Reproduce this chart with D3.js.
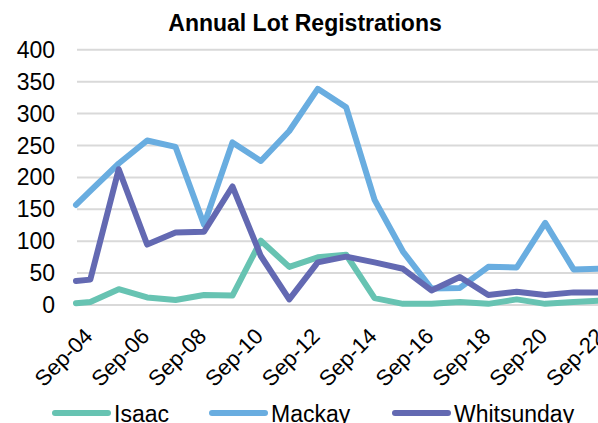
<!DOCTYPE html>
<html>
<head>
<meta charset="utf-8">
<script src="https://cdn.jsdelivr.net/npm/d3@7"></script>
<style>
  html, body { margin: 0; padding: 0; background: #fff; overflow: hidden; }
  text { font-family: "Liberation Sans", Arial, sans-serif; fill: #000; }
</style>
</head>
<body>
<div class="chart"></div>
<script>
const WIDTH = 598;
const HEIGHT = 423;

// Data (first point is a part-year, then every September)
const periods = ["2004-03", "2004-09", "2005-09", "2006-09", "2007-09", "2008-09", "2009-09",
  "2010-09", "2011-09", "2012-09", "2013-09", "2014-09", "2015-09", "2016-09", "2017-09",
  "2018-09", "2019-09", "2020-09", "2021-09", "2022-09"];
const isaac = [2, 4, 24, 11, 7, 15, 14, 100, 59, 74, 78, 10, 1, 1, 4, 1, 8, 1, 4, 6];
const mackay = [156, 178, 221, 257, 247, 125, 254, 225, 272, 338, 309, 164, 83, 25, 26, 59, 58, 128, 55, 56];
const whitsunday = [37, 39, 212, 94, 113, 114, 185, 76, 8, 66, 75, 66, 56, 22, 43, 15, 20, 15, 19, 19];

const tickLabels = ["2004-09", "2006-09", "2008-09", "2010-09", "2012-09", "2014-09",
  "2016-09", "2018-09", "2020-09", "2022-09"];
const yTicks = [0, 50, 100, 150, 200, 250, 300, 350, 400];

const seriesNames = ["Isaac", "Mackay", "Whitsunday"];
const seriesColors = ["#67c3b2", "#69ade0", "#6369b2"];

const parse = d3.timeParse("%Y-%m");
const dates = periods.map(parse);
const series = [isaac, mackay, whitsunday].map((vals, i) => ({
  name: seriesNames[i],
  color: seriesColors[i],
  values: vals.map((v, j) => ({ date: dates[j], value: v })),
}));

const svg = d3.select(".chart")
  .append("svg")
  .attr("width", WIDTH)
  .attr("height", HEIGHT);

const xScale = d3.scaleTime()
  .domain([dates[0], dates[dates.length - 1]])
  .range([76, 602]);
const yScale = d3.scaleLinear()
  .domain([0, 400])
  .range([304.5, 49.3]);

// Title
svg.append("text")
  .attr("x", 305)
  .attr("y", 31)
  .attr("text-anchor", "middle")
  .style("font-size", "23px")
  .style("font-weight", "bold")
  .text("Annual Lot Registrations");

// Gridlines + y labels
const yAxis = d3.axisLeft(yScale)
  .tickValues(yTicks)
  .tickSize(-(WIDTH + 10 - 77))
  .tickPadding(22);
const yG = svg.append("g")
  .attr("class", "axis y-axis")
  .attr("transform", "translate(77,0)")
  .call(yAxis);
yG.select(".domain").remove();
yG.selectAll(".tick line").attr("stroke", "#d9d9d9").attr("stroke-width", 2);
yG.selectAll(".tick text")
  .attr("dy", "0.35em")
  .style("font-size", "23px")
  .style("font-family", "'Liberation Sans', Arial, sans-serif")
  .attr("fill", "#000");

// x labels
const xAxis = d3.axisBottom(xScale)
  .tickValues(tickLabels.map(parse))
  .tickFormat(d3.timeFormat("%b-%y"))
  .tickSize(0);
const xG = svg.append("g")
  .attr("class", "axis x-axis")
  .attr("transform", "translate(0,304.5)")
  .call(xAxis);
xG.select(".domain").remove();
xG.selectAll(".tick text")
  .attr("text-anchor", "end")
  .attr("y", 0)
  .attr("dy", 0)
  .attr("transform", "translate(3,33) rotate(-45)")
  .style("font-size", "22px")
  .style("font-family", "'Liberation Sans', Arial, sans-serif")
  .attr("fill", "#000");

// Lines
const line = d3.line()
  .x(d => xScale(d.date))
  .y(d => yScale(d.value));

svg.append("g").attr("class", "lines")
  .selectAll("path")
  .data(series)
  .join("path")
  .attr("d", d => line(d.values))
  .attr("fill", "none")
  .attr("stroke", d => d.color)
  .attr("stroke-width", 6)
  .attr("stroke-linejoin", "round")
  .attr("stroke-linecap", "round");

// Legend
const legendX = [55, 212, 395];
const legend = svg.append("g").attr("class", "legend")
  .selectAll("g")
  .data(series)
  .join("g")
  .attr("transform", (d, i) => `translate(${legendX[i]},413)`);
legend.append("line")
  .attr("x1", 0).attr("x2", 53)
  .attr("stroke", d => d.color)
  .attr("stroke-width", 6)
  .attr("stroke-linecap", "round");
legend.append("text")
  .attr("x", 59)
  .attr("y", 8.5)
  .style("font-size", "23px")
  .text(d => d.name);
</script>
</body>
</html>
